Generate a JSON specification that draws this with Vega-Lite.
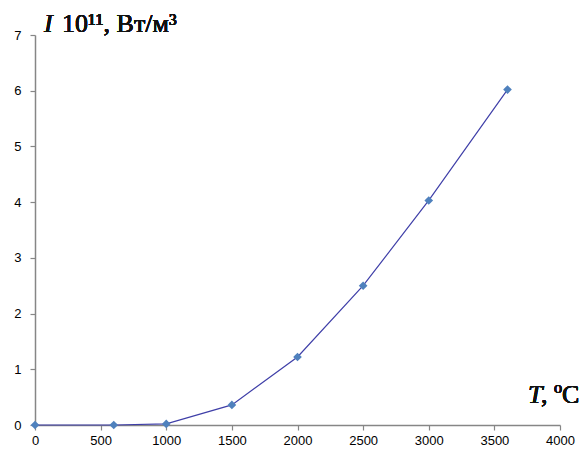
{
  "$schema": "https://vega.github.io/schema/vega-lite/v6.json",
  "width": 525,
  "height": 390,
  "autosize": "none",
  "padding": {"left": 35, "top": 35, "right": 25, "bottom": 32},
  "background": "white",
  "config": {"view": {"stroke": null}},
  "data": {"values": [
    {"T": 0, "I": 0},
    {"T": 600, "I": 0},
    {"T": 1000, "I": 0.02},
    {"T": 1500, "I": 0.36},
    {"T": 2000, "I": 1.22},
    {"T": 2500, "I": 2.5},
    {"T": 3000, "I": 4.03},
    {"T": 3600, "I": 6.02}
  ]},
  "layer": [
    {
      "mark": {"type": "line", "color": "#3F3FA8", "strokeWidth": 1.2, "clip": false},
      "encoding": {
        "x": {"field": "T", "type": "quantitative", "scale": {"domain": [0, 4000], "nice": false},
          "axis": {"values": [0,500,1000,1500,2000,2500,3000,3500,4000], "format": "d", "title": null, "grid": false,
            "domainColor": "#868686", "domainWidth": 1.5, "tickColor": "#868686", "tickSize": 5, "tickWidth": 1.2,
            "labelFont": "Liberation Sans", "labelFontSize": 13, "labelColor": "#000000", "labelPadding": 4, "labelFlush": false}},
        "y": {"field": "I", "type": "quantitative", "scale": {"domain": [0, 7], "nice": false},
          "axis": {"values": [0,1,2,3,4,5,6,7], "format": "d", "title": null, "grid": false,
            "domainColor": "#868686", "domainWidth": 1.5, "tickColor": "#868686", "tickSize": 5, "tickWidth": 1.2,
            "labelFont": "Liberation Sans", "labelFontSize": 13, "labelColor": "#000000", "labelPadding": 9}}
      }
    },
    {
      "mark": {"type": "point", "shape": "diamond", "filled": true, "color": "#4F81BD", "opacity": 1, "size": 75, "clip": false},
      "encoding": {
        "x": {"field": "T", "type": "quantitative"},
        "y": {"field": "I", "type": "quantitative"}
      }
    },
    {
      "mark": {"type": "text", "text": "I", "font": "Liberation Serif", "fontStyle": "italic", "fontWeight": 300, "fontSize": 26, "align": "left", "baseline": "alphabetic", "dx": 9, "dy": -3, "color": "#111111"},
      "encoding": {"x": {"datum": 0, "type": "quantitative"}, "y": {"datum": 7, "type": "quantitative"}}
    },
    {
      "mark": {"type": "text", "text": "10¹¹, Вт/м³", "font": "Liberation Serif", "fontWeight": 300, "fontSize": 26, "align": "left", "baseline": "alphabetic", "dx": 27, "dy": -3, "color": "#111111"},
      "encoding": {"x": {"datum": 0, "type": "quantitative"}, "y": {"datum": 7, "type": "quantitative"}}
    },
    {
      "mark": {"type": "text", "text": "T", "font": "Liberation Serif", "fontStyle": "italic", "fontWeight": 300, "fontSize": 26, "align": "left", "baseline": "alphabetic", "dx": -32, "dy": -22, "color": "#111111"},
      "encoding": {"x": {"datum": 4000, "type": "quantitative"}, "y": {"datum": 0, "type": "quantitative"}}
    },
    {
      "mark": {"type": "text", "text": ", ºC", "font": "Liberation Serif", "fontWeight": 300, "fontSize": 26, "align": "left", "baseline": "alphabetic", "dx": -19, "dy": -22, "color": "#111111"},
      "encoding": {"x": {"datum": 4000, "type": "quantitative"}, "y": {"datum": 0, "type": "quantitative"}}
    }
  ]
}
